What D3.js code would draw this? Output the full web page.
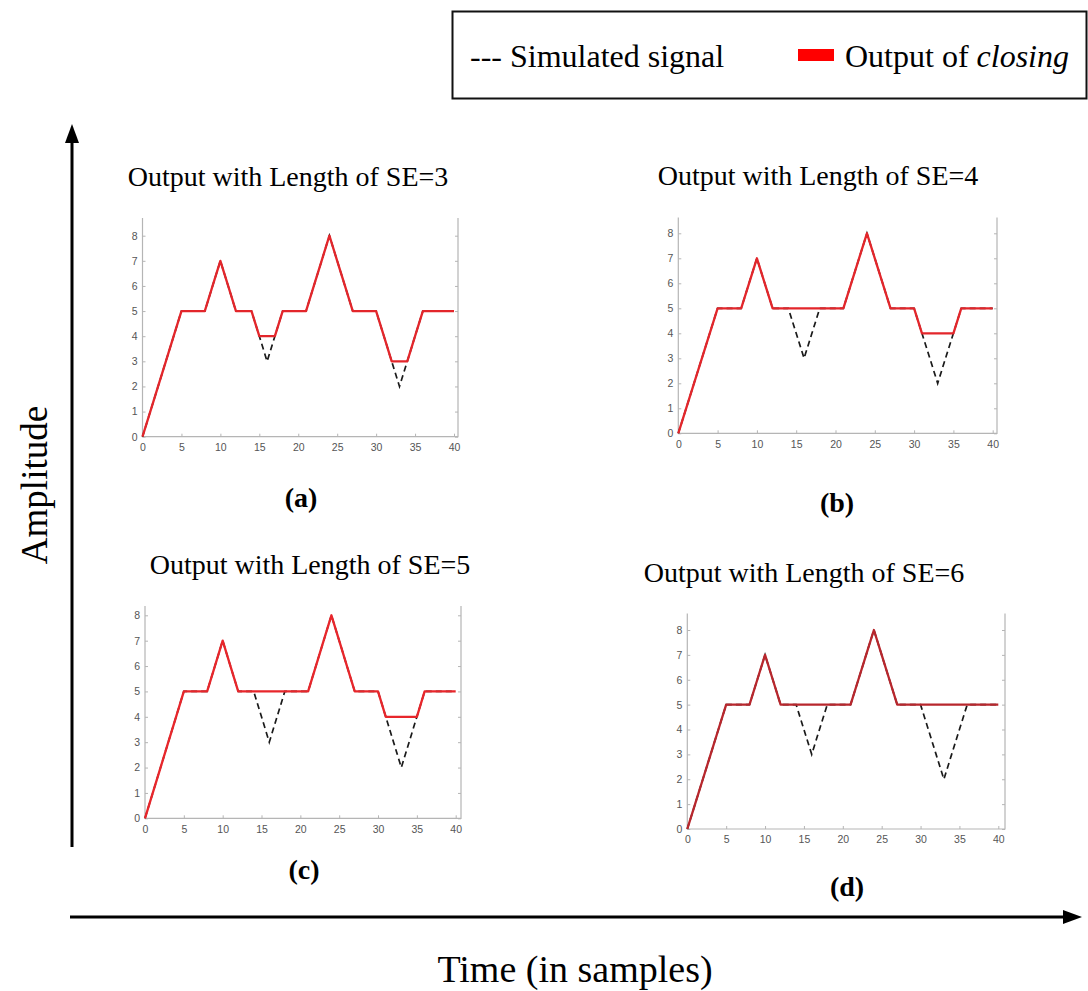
<!DOCTYPE html>
<html>
<head>
<meta charset="utf-8">
<script src="https://cdn.jsdelivr.net/npm/d3@7"></script>
<style>
  html, body { margin: 0; padding: 0; background: #fff; }
  svg { display: block; }
  .tick text { font-family: 'Liberation Sans', Arial, sans-serif; fill: #555; }
</style>
</head>
<body>
<svg></svg>
<script>
// time axis (samples) and the simulated signal
const samples = d3.range(0, 41);
const signal = [0, 1, 2, 3, 4, 5, 5, 5, 5, 6, 7, 6, 5, 5, 5, 4, 3, 4, 5, 5, 5,
                5, 6, 7, 8, 7, 6, 5, 5, 5, 5, 4, 3, 2, 3, 4, 5, 5, 5, 5, 5];

// output of closing, one per structuring element length
const closeSE3 = [0, 1, 2, 3, 4, 5, 5, 5, 5, 6, 7, 6, 5, 5, 5, 4, 4, 4, 5, 5, 5,
                  5, 6, 7, 8, 7, 6, 5, 5, 5, 5, 4, 3, 3, 3, 4, 5, 5, 5, 5, 5];
const closeSE4 = [0, 1, 2, 3, 4, 5, 5, 5, 5, 6, 7, 6, 5, 5, 5, 5, 5, 5, 5, 5, 5,
                  5, 6, 7, 8, 7, 6, 5, 5, 5, 5, 4, 4, 4, 4, 4, 5, 5, 5, 5, 5];
const closeSE5 = [0, 1, 2, 3, 4, 5, 5, 5, 5, 6, 7, 6, 5, 5, 5, 5, 5, 5, 5, 5, 5,
                  5, 6, 7, 8, 7, 6, 5, 5, 5, 5, 4, 4, 4, 4, 4, 5, 5, 5, 5, 5];
const closeSE6 = [0, 1, 2, 3, 4, 5, 5, 5, 5, 6, 7, 6, 5, 5, 5, 5, 5, 5, 5, 5, 5,
                  5, 6, 7, 8, 7, 6, 5, 5, 5, 5, 5, 5, 5, 5, 5, 5, 5, 5, 5, 5];

const xTicks = [0, 5, 10, 15, 20, 25, 30, 35, 40];
const yTicks = [0, 1, 2, 3, 4, 5, 6, 7, 8];
const seLengths = [3, 4, 5, 6];
const panelLabels = ['(a)', '(b)', '(c)', '(d)'];

const width = 1088;
const height = 991;
const serif = "'Liberation Serif', 'Times New Roman', serif";
const svg = d3.select('svg').attr('width', width).attr('height', height);

// pixel layout of the four small plots
const panels = [
  {out: closeSE3, x0: 142.5, x1: 454, right: 458, y0: 436.7, y1: 235.7, top: 218, tx: 288, ty: 186, lx: 301, ly: 507, red: '#e3262b'},
  {out: closeSE4, x0: 678.3, x1: 992.7, right: 997, y0: 433.3, y1: 233.3, top: 217.5, tx: 818, ty: 185, lx: 837, ly: 512, red: '#e3262b'},
  {out: closeSE5, x0: 145, x1: 455.7, right: 461, y0: 818.3, y1: 615.3, top: 606, tx: 310, ty: 574, lx: 304, ly: 879, red: '#e8262b'},
  {out: closeSE6, x0: 687.3, x1: 998.3, right: 1005, y0: 829, y1: 630, top: 613.5, tx: 804, ty: 582, lx: 847, ly: 896, red: '#b8272d'}
];

panels.forEach(function(p, i) {
  const x = d3.scaleLinear().domain([0, 40]).range([p.x0, p.x1]);
  const y = d3.scaleLinear().domain([0, 8]).range([p.y0, p.y1]);
  const g = svg.append('g');

  // frame: left, right, bottom
  g.append('path')
    .attr('d', `M${p.x0},${p.top}V${p.y0}H${p.right}V${p.top}`)
    .attr('fill', 'none')
    .attr('stroke', '#b5b5b5')
    .attr('stroke-width', 1.2);

  const left = g.append('g')
    .call(d3.axisLeft(y).tickValues(yTicks).tickSizeInner(-3).tickSizeOuter(0).tickPadding(5));
  const right = g.append('g')
    .call(d3.axisLeft(y).tickValues(yTicks).tickSizeInner(3).tickSizeOuter(0).tickFormat(''));
  const bottom = g.append('g').attr('transform', `translate(0, ${p.y0})`)
    .call(d3.axisBottom(x).tickValues(xTicks).tickSizeInner(-3).tickSizeOuter(0).tickPadding(7));
  [left, right, bottom].forEach(function(a) {
    a.select('.domain').remove();
    a.selectAll('line').attr('stroke', '#b5b5b5');
    a.selectAll('text').attr('font-size', 10.5).attr('fill', '#555');
  });
  left.attr('transform', `translate(${p.x0}, 0)`);
  right.attr('transform', `translate(${p.right}, 0)`);

  const line = d3.line()
    .x(function(d, j) { return x(samples[j]); })
    .y(function(d) { return y(d); });

  g.append('path').datum(signal)
    .attr('d', line)
    .attr('fill', 'none')
    .attr('stroke', '#1a1a1a')
    .attr('stroke-width', 1.7)
    .attr('stroke-dasharray', '6,4');

  g.append('path').datum(p.out)
    .attr('d', line)
    .attr('fill', 'none')
    .attr('stroke', p.red)
    .attr('stroke-width', 2.3)
    .attr('stroke-linejoin', 'round');

  g.append('text')
    .attr('x', p.tx).attr('y', p.ty)
    .attr('text-anchor', 'middle')
    .attr('font-family', serif)
    .attr('font-size', 28)
    .text(`Output with Length of SE=${seLengths[i]}`);

  g.append('text')
    .attr('x', p.lx).attr('y', p.ly)
    .attr('text-anchor', 'middle')
    .attr('font-family', serif)
    .attr('font-weight', 'bold')
    .attr('font-size', 28)
    .text(panelLabels[i]);
});

// big arrows
svg.append('line').attr('x1', 72).attr('y1', 847).attr('x2', 72).attr('y2', 140)
  .attr('stroke', '#000').attr('stroke-width', 3);
svg.append('path').attr('d', 'M72,124L65,143L79,143Z').attr('fill', '#000');
svg.append('line').attr('x1', 70).attr('y1', 917).attr('x2', 1066).attr('y2', 917)
  .attr('stroke', '#000').attr('stroke-width', 3);
svg.append('path').attr('d', 'M1082,917L1063,910L1063,924Z').attr('fill', '#000');

svg.append('text')
  .attr('transform', 'translate(47, 485) rotate(-90)')
  .attr('text-anchor', 'middle')
  .attr('font-family', serif)
  .attr('font-size', 37)
  .text('Amplitude');

svg.append('text')
  .attr('x', 575).attr('y', 982)
  .attr('text-anchor', 'middle')
  .attr('font-family', serif)
  .attr('font-size', 38)
  .text('Time (in samples)');

// legend box
const legend = svg.append('g');
legend.append('rect')
  .attr('x', 452.5).attr('y', 11.5).attr('width', 634).attr('height', 87)
  .attr('fill', '#fff').attr('stroke', '#111').attr('stroke-width', 2);
legend.append('text')
  .attr('x', 470).attr('y', 67)
  .attr('font-family', serif)
  .attr('font-size', 32)
  .text('--- Simulated signal');
legend.append('rect')
  .attr('x', 798).attr('y', 49).attr('width', 36).attr('height', 12)
  .attr('fill', '#ff0000');
const lt = legend.append('text')
  .attr('x', 845).attr('y', 67)
  .attr('font-family', serif)
  .attr('font-size', 32);
lt.append('tspan').text('Output of ');
lt.append('tspan').attr('font-style', 'italic').text('closing');
</script>
</body>
</html>
